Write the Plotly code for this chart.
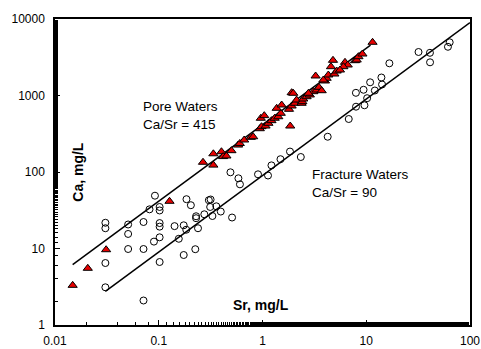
import plotly.graph_objects as go

# Pore waters (red triangles): Sr, Ca in mg/L
pore_sr = [0.0148, 0.0207, 0.0311, 0.127, 0.267, 0.336, 0.336, 0.402, 0.417, 0.449,
           0.502, 0.582, 0.604, 0.666, 0.771, 0.813, 0.942, 0.978, 1.07, 1.14,
           1.22, 1.31, 1.42, 1.50, 0.963, 1.04, 1.37, 1.53, 1.80, 1.91,
           2.05, 2.13, 1.91, 1.98, 1.85, 2.38, 2.42, 2.47, 2.66, 2.86,
           3.09, 3.32, 3.50, 3.72, 3.25, 4.00, 4.15, 4.31, 4.93, 5.19,
           4.57, 4.78, 6.24, 6.63, 7.79, 8.09, 8.41, 9.19, 11.5, 3.86,
           2.77, 6.02, 5.58]
pore_ca = [3.30, 5.51, 9.64, 41.4, 134, 173, 123, 184, 159, 162,
           190, 225, 236, 262, 284, 289, 368, 391, 399, 433,
           469, 504, 528, 585, 504, 545, 680, 751, 660, 729,
           791, 873, 1088, 1069, 399, 791, 830, 900, 964, 1016,
           1122, 1180, 1280, 1155, 1799, 1548, 1679, 1854, 1910, 2090,
           2380, 2884, 2716, 2504, 2850, 2911, 3214, 3485, 4960, 1595,
           1069, 2380, 2154]

# Fracture waters (open circles)
frac_sr = [0.0306, 0.0306, 0.0306, 0.0306, 0.0507, 0.0507, 0.0507, 0.0713, 0.0713, 0.0713,
           0.0815, 0.0919, 0.0899, 0.102, 0.102, 0.102, 0.102, 0.102, 0.102, 0.142,
           0.156, 0.174, 0.184, 0.174, 0.185, 0.204, 0.225, 0.229, 0.229, 0.239,
           0.275, 0.304, 0.316, 0.313, 0.329, 0.359, 0.396, 0.509, 0.491, 0.586,
           0.606, 0.905, 1.13, 1.22, 1.49, 1.84, 2.34, 4.25, 6.78, 7.97,
           9.61, 10.2, 7.95, 9.42, 12.1, 10.9, 14.0, 14.2, 16.7, 31.9,
           41.1, 41.2, 61.3, 63.7]
frac_ca = [21.7, 18.4, 6.46, 3.11, 20.6, 15.5, 9.85, 22.2, 9.85, 2.09,
           32.5, 49.0, 12.3, 34.9, 31.4, 21.5, 19.3, 14.0, 6.66, 19.6,
           13.4, 20.1, 17.6, 8.22, 44.1, 36.8, 9.79, 26.4, 24.9, 18.4,
           28.0, 42.8, 43.7, 34.9, 26.6, 35.6, 30.4, 25.4, 99.1, 82.7,
           69.0, 93.3, 90.0, 122, 147, 185, 157, 289, 493, 714,
           745, 922, 1084, 1188, 1162, 1488, 1719, 1393, 2636, 3705,
           3614, 2716, 4333, 4960]

# Ratio lines
pore_ratio = 415
frac_ratio = 90
pore_line_sr = [0.0148, 11.0]
frac_line_sr = [0.0306, 100.0]

x_ticks = [0.01, 0.1, 1, 10, 100]
x_ticktext = ["0.01", "0.1", "1", "10", "100"]
y_ticks = [1, 10, 100, 1000, 10000]
y_ticktext = ["1", "10", "100", "1000", "10000"]

FONT = "Arial, Liberation Sans, sans-serif"

fig = go.Figure()
fig.add_trace(go.Scatter(x=pore_line_sr, y=[pore_ratio * s for s in pore_line_sr],
                         mode="lines", line=dict(color="black", width=1.5),
                         hoverinfo="skip"))
fig.add_trace(go.Scatter(x=frac_line_sr, y=[frac_ratio * s for s in frac_line_sr],
                         mode="lines", line=dict(color="black", width=1.5),
                         hoverinfo="skip"))
fig.add_trace(go.Scatter(x=frac_sr, y=frac_ca, mode="markers", name="Fracture Waters",
                         marker=dict(symbol="circle-open", size=7,
                                     color="black", line=dict(color="black", width=1))))
fig.add_trace(go.Scatter(x=pore_sr, y=pore_ca, mode="markers", name="Pore Waters",
                         marker=dict(symbol="triangle-up", size=8, color="#e60000",
                                     line=dict(color="black", width=1))))

axis_common = dict(
    type="log", showline=True, linecolor="black", linewidth=1.5, mirror=True,
    showgrid=False, zeroline=False, ticks="inside", ticklen=5, tickcolor="black",
    tickwidth=1, tickfont=dict(family=FONT, size=12, color="black"),
    minor=dict(ticks="inside", ticklen=3, tickcolor="black", tickwidth=1, showgrid=False),
    automargin=False, ticklabeloverflow="allow",
)

fig.update_layout(
    width=481, height=349,
    margin=dict(l=55, r=11, t=19, b=24),
    paper_bgcolor="white", plot_bgcolor="white",
    showlegend=False,
    font=dict(family=FONT, size=12, color="black"),
    xaxis=dict(axis_common, range=[-2, 2], tickvals=x_ticks, ticktext=x_ticktext,
               ticklabelstandoff=4),
    yaxis=dict(axis_common, range=[0, 4], tickvals=y_ticks, ticktext=y_ticktext,
               ticklabelstandoff=6),
)

ann_font = dict(family=FONT, size=13.5, color="black")
title_font = dict(family=FONT, size=14, color="black")
fig.add_annotation(x=-1.169, y=2.745, xref="x", yref="y", text="Pore Waters<br>Ca/Sr = 415",
                   showarrow=False, xanchor="left", yanchor="middle", align="left", font=ann_font)
fig.add_annotation(x=0.457, y=1.85, xref="x", yref="y", text="Fracture Waters<br>Ca/Sr = 90",
                   showarrow=False, xanchor="left", yanchor="middle", align="left", font=ann_font)
fig.add_annotation(x=-1.778, y=2.004, xref="x", yref="y", text="<b>Ca, mg/L</b>", textangle=-90,
                   showarrow=False, xanchor="center", yanchor="middle", font=title_font)
fig.add_annotation(x=-0.01, y=0.261, xref="x", yref="y", text="<b>Sr, mg/L</b>",
                   showarrow=False, xanchor="center", yanchor="middle", font=title_font)

# remove the default page margin so the figure fills the 481x349 window exactly
fig.write_html("out.html",
               config={"displayModeBar": False},
               post_script="document.body.style.margin='0';document.body.style.overflow='hidden';")
